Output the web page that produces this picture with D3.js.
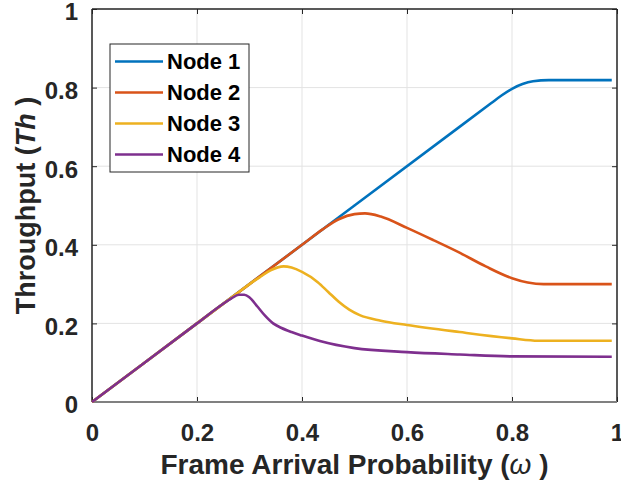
<!DOCTYPE html>
<html>
<head>
<meta charset="utf-8">
<script src="https://cdn.jsdelivr.net/npm/d3@7"></script>
<style>
  body { margin: 0; background: #fff; }
  text { font-family: Arial, "Liberation Sans", sans-serif; font-weight: bold; }
</style>
</head>
<body>
<svg width="621" height="486"></svg>
<script>
// Data.
const seriesNames = ["Node 1", "Node 2", "Node 3", "Node 4"];
const seriesColors = ["#0072BD", "#D95319", "#EDB120", "#7E2F8E"];

const node1X = [0, 0.2, 0.5, 0.7, 0.76, 0.78, 0.80, 0.82, 0.84, 0.87, 0.99];
const node1Y = [0, 0.2, 0.5, 0.7, 0.76, 0.78, 0.797, 0.809, 0.816, 0.819, 0.819];

const node2X = [0, 0.1, 0.2, 0.3, 0.4, 0.44, 0.47, 0.50, 0.52, 0.55, 0.60, 0.65, 0.70, 0.75, 0.80, 0.83, 0.86, 0.99];
const node2Y = [0, 0.1, 0.2, 0.3, 0.4, 0.44, 0.465, 0.478, 0.48, 0.472, 0.443, 0.412, 0.38, 0.345, 0.315, 0.304, 0.30, 0.30];

const node3X = [0, 0.1, 0.2, 0.28, 0.30, 0.32, 0.34, 0.365, 0.38, 0.40, 0.43, 0.45, 0.47, 0.49, 0.51, 0.55, 0.60, 0.70, 0.80, 0.85, 0.99];
const node3Y = [0, 0.1, 0.2, 0.28, 0.30, 0.318, 0.335, 0.345, 0.342, 0.331, 0.305, 0.28, 0.255, 0.235, 0.221, 0.207, 0.196, 0.178, 0.162, 0.156, 0.156];

const node4X = [0, 0.1, 0.2, 0.25, 0.265, 0.28, 0.29, 0.30, 0.315, 0.33, 0.345, 0.36, 0.38, 0.40, 0.434, 0.50, 0.60, 0.70, 0.80, 0.99];
const node4Y = [0, 0.1, 0.2, 0.25, 0.263, 0.273, 0.273, 0.266, 0.243, 0.219, 0.200, 0.189, 0.178, 0.169, 0.155, 0.137, 0.127, 0.121, 0.116, 0.115];

const xTicks = [0, 0.2, 0.4, 0.6, 0.8, 1];
const yTicks = [0, 0.2, 0.4, 0.6, 0.8, 1];

const allX = [node1X, node2X, node3X, node4X];
const allY = [node1Y, node2Y, node3Y, node4Y];

// Plot area
const svg = d3.select("svg");
const margin = { top: 9, right: 4, bottom: 84, left: 92 };
const width = +svg.attr("width");
const height = +svg.attr("height");
const plotWidth = width - margin.left - margin.right;
const plotHeight = height - margin.top - margin.bottom;

const xScale = d3.scaleLinear().domain([0, 1]).range([0, plotWidth]);
const yScale = d3.scaleLinear().domain([0, 1]).range([plotHeight, 0]);

const g = svg.append("g").attr("transform", `translate(${margin.left},${margin.top})`);

// Grid
g.selectAll(".gx").data(xTicks).enter().append("line")
 .attr("x1", d => xScale(d)).attr("x2", d => xScale(d))
 .attr("y1", 0).attr("y2", plotHeight)
 .attr("stroke", "#e3e3e3").attr("stroke-width", 1);
g.selectAll(".gy").data(yTicks).enter().append("line")
 .attr("y1", d => yScale(d)).attr("y2", d => yScale(d))
 .attr("x1", 0).attr("x2", plotWidth)
 .attr("stroke", "#e3e3e3").attr("stroke-width", 1);

// Axes (MATLAB box style, ticks pointing inward)
const axisStyle = sel => {
  sel.select(".domain").remove();
  sel.selectAll("line").attr("stroke", "#262626");
  sel.selectAll("text").attr("fill", "#262626").style("font-size", "24px");
};

g.append("g").attr("transform", `translate(0,${plotHeight})`)
 .call(d3.axisBottom(xScale).tickValues(xTicks).tickSizeInner(-5).tickSizeOuter(0).tickPadding(22)
   .tickFormat(d => d3.format("")(d)))
 .call(axisStyle);
g.append("g").attr("transform", `translate(0,0)`)
 .call(d3.axisTop(xScale).tickValues(xTicks).tickSizeInner(-5).tickSizeOuter(0).tickFormat(""))
 .call(axisStyle);
g.append("g")
 .call(d3.axisLeft(yScale).tickValues(yTicks).tickSizeInner(-5).tickSizeOuter(0).tickPadding(14)
   .tickFormat(d => d3.format("")(d)))
 .call(axisStyle)
 .selectAll("text").attr("dy", "0.45em");
g.append("g").attr("transform", `translate(${plotWidth},0)`)
 .call(d3.axisRight(yScale).tickValues(yTicks).tickSizeInner(-5).tickSizeOuter(0).tickFormat(""))
 .call(axisStyle);

// Box lines
g.append("line").attr("x1", 0).attr("x2", plotWidth).attr("y1", 0).attr("y2", 0)
 .attr("stroke", "#262626").attr("stroke-width", 1.5);
g.append("line").attr("x1", plotWidth).attr("x2", plotWidth).attr("y1", 0).attr("y2", plotHeight)
 .attr("stroke", "#262626").attr("stroke-width", 1.5);
g.append("line").attr("x1", 0).attr("x2", 0).attr("y1", 0).attr("y2", plotHeight)
 .attr("stroke", "#262626").attr("stroke-width", 1.5);
g.append("line").attr("x1", 0).attr("x2", plotWidth).attr("y1", plotHeight).attr("y2", plotHeight)
 .attr("stroke", "#808080").attr("stroke-width", 2);

// Curves
const line = d3.line().x(d => xScale(d[0])).y(d => yScale(d[1])).curve(d3.curveMonotoneX);
seriesNames.forEach((name, i) => {
  g.append("path")
   .datum(d3.zip(allX[i], allY[i]))
   .attr("fill", "none")
   .attr("stroke", seriesColors[i])
   .attr("stroke-width", 2.6)
   .attr("stroke-linejoin", "round")
   .attr("d", line);
});

// Legend
const legend = svg.append("g").attr("transform", "translate(110,44)");
legend.append("rect").attr("x", 0).attr("y", 0).attr("width", 139).attr("height", 128)
 .attr("fill", "#fff").attr("stroke", "#262626").attr("stroke-width", 1);
seriesNames.forEach((name, i) => {
  const y = 17.5 + i * 31;
  legend.append("line").attr("x1", 5).attr("x2", 53).attr("y1", y).attr("y2", y)
   .attr("stroke", seriesColors[i]).attr("stroke-width", 2.6);
  legend.append("text").attr("x", 57).attr("y", y).attr("dy", "0.36em")
   .style("font-size", "22px").attr("fill", "#000").text(name);
});

// Axis labels
const xLabel = svg.append("text")
 .attr("x", margin.left + plotWidth / 2).attr("y", 474)
 .attr("text-anchor", "middle").attr("fill", "#262626").style("font-size", "28px");
xLabel.append("tspan").text("Frame Arrival Probability (");
xLabel.append("tspan").style("font-style", "italic").style("font-weight", "normal").text("ω");
xLabel.append("tspan").text(" )");

const yLabel = svg.append("text")
 .attr("transform", `translate(35,${margin.top + plotHeight / 2}) rotate(-90)`)
 .attr("text-anchor", "middle").attr("fill", "#262626").style("font-size", "27px");
yLabel.append("tspan").text("Throughput (");
yLabel.append("tspan").style("font-style", "italic").text("Th");
yLabel.append("tspan").text(" )");
</script>
</body>
</html>
